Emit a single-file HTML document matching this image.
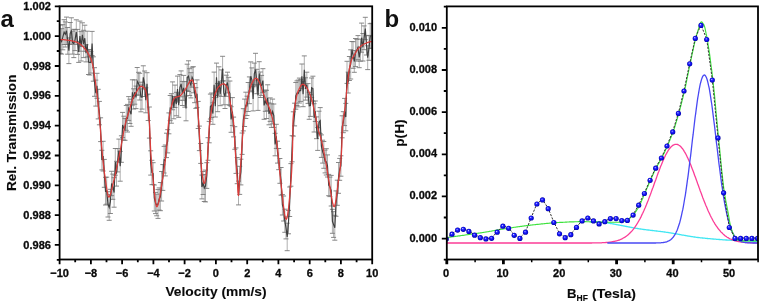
<!DOCTYPE html>
<html><head><meta charset="utf-8"><style>
html,body{margin:0;padding:0;background:#fff;}
body{width:761px;height:304px;overflow:hidden;}
svg{display:block;filter:blur(0.3px);font-family:"Liberation Sans",sans-serif;font-weight:bold;}
</style></head><body>
<svg width="761" height="304" viewBox="0 0 761 304">
<defs>
<radialGradient id="sg" cx="0.5" cy="0.5" r="0.5" fx="0.38" fy="0.34">
<stop offset="0" stop-color="#f0f0ff"/><stop offset="0.18" stop-color="#7070ff"/><stop offset="0.4" stop-color="#2222ff"/><stop offset="0.8" stop-color="#0808d8"/><stop offset="1" stop-color="#0000a0"/>
</radialGradient>
<clipPath id="ca"><rect x="59.6" y="6.3" width="312.6" height="253.2"/></clipPath>
<clipPath id="cb"><rect x="446.8" y="6.4" width="311.2" height="253.1"/></clipPath>
</defs>
<g clip-path="url(#ca)" fill="none">
<path d="M60.4 25.0V53.4M61.6 28.7V54.1M62.8 24.7V49.8M64.1 19.7V44.5M65.3 21.9V47.0M66.5 17.1V44.5M67.7 27.5V54.2M68.9 37.9V63.6M70.2 22.5V44.3M71.4 17.8V44.3M72.6 31.1V54.1M73.8 29.3V57.6M75.0 29.5V50.6M76.3 19.8V44.4M77.5 29.4V54.4M78.7 41.4V62.4M79.9 21.1V51.2M81.1 31.6V61.0M82.4 22.8V46.5M83.6 30.3V57.6M84.8 25.2V51.3M86.0 44.8V61.9M87.2 31.2V57.0M88.5 49.7V74.5M89.7 49.7V75.0M90.9 51.4V73.1M92.1 31.4V55.6M93.3 56.8V81.2M94.5 67.7V96.3M95.8 80.1V106.1M97.0 73.3V98.3M98.2 89.3V118.9M99.4 101.4V124.8M100.6 117.8V141.6M101.9 150.3V169.9M103.1 141.3V171.0M104.3 159.4V187.3M105.5 177.3V205.0M106.7 177.2V204.2M108.0 191.7V217.0M109.2 194.6V220.3M110.4 189.3V213.5M111.6 171.3V195.7M112.8 174.1V199.3M114.1 177.7V207.2M115.3 148.5V175.2M116.5 161.3V186.1M117.7 148.6V171.9M118.9 139.1V162.2M120.2 151.4V181.2M121.4 135.8V162.3M122.6 112.4V137.6M123.8 116.2V140.1M125.0 118.6V140.3M126.3 105.5V130.3M127.5 104.4V132.0M128.7 96.6V120.4M129.9 99.2V123.5M131.1 102.0V126.3M132.4 79.8V105.1M133.6 88.8V109.0M134.8 79.9V104.2M136.0 86.1V108.6M137.2 67.5V95.2M138.5 72.3V95.0M139.7 73.3V100.0M140.9 82.2V111.8M142.1 85.0V109.1M143.3 65.8V89.0M144.6 71.0V96.5M145.8 87.8V112.8M147.0 72.7V94.7M148.2 94.1V120.5M149.4 107.0V138.1M150.7 150.8V175.1M151.9 160.3V184.7M153.1 162.7V184.5M154.3 185.0V211.0M155.5 192.4V213.6M156.7 194.2V215.8M158.0 189.6V218.4M159.2 187.9V210.1M160.4 182.5V210.7M161.6 171.5V201.0M162.8 164.6V190.4M164.1 146.4V173.0M165.3 145.0V175.9M166.5 133.2V157.6M167.7 129.7V152.9M168.9 112.9V133.8M170.2 95.5V120.7M171.4 93.7V123.2M172.6 81.9V109.8M173.8 96.6V118.8M175.0 85.1V107.5M176.3 92.3V115.8M177.5 76.1V102.0M178.7 93.0V117.3M179.9 74.6V100.3M181.1 70.9V96.8M182.4 81.4V105.5M183.6 75.4V100.3M184.8 81.6V107.2M186.0 96.0V120.8M187.2 64.2V90.7M188.5 60.8V91.5M189.7 68.7V95.5M190.9 72.7V97.9M192.1 67.2V87.2M193.3 66.7V92.8M194.6 83.5V102.7M195.8 87.7V108.4M197.0 79.9V107.5M198.2 101.4V128.5M199.4 126.1V150.6M200.7 143.5V163.4M201.9 175.1V198.9M203.1 171.5V194.5M204.3 174.5V201.5M205.5 170.1V201.9M206.8 162.7V188.4M208.0 137.7V160.3M209.2 121.4V142.8M210.4 94.1V119.0M211.6 93.0V117.5M212.9 102.8V124.3M214.1 72.1V97.5M215.3 95.5V117.0M216.5 63.1V91.4M217.7 83.5V111.7M218.9 66.8V95.1M220.2 82.1V105.7M221.4 69.9V96.4M222.6 56.3V80.9M223.8 80.9V104.8M225.0 84.5V108.5M226.3 75.2V96.3M227.5 72.2V92.9M228.7 77.3V104.7M229.9 81.0V105.5M231.1 106.7V132.3M232.4 97.6V125.6M233.6 117.1V136.9M234.8 126.7V149.3M236.0 147.9V173.4M237.2 157.5V183.7M238.5 181.1V204.9M239.7 166.3V194.4M240.9 159.2V184.9M242.1 133.0V154.4M243.3 108.7V130.9M244.6 99.1V126.5M245.8 92.2V118.5M247.0 96.2V115.5M248.2 82.5V111.5M249.4 76.9V103.7M250.7 61.9V90.9M251.9 67.9V91.8M253.1 86.8V110.9M254.3 63.1V84.7M255.5 53.3V85.9M256.8 69.3V93.7M258.0 80.6V110.4M259.2 61.7V84.7M260.4 72.0V97.5M261.6 75.4V95.4M262.9 68.7V92.6M264.1 91.4V119.3M265.3 90.1V111.3M266.5 90.3V118.5M267.7 84.8V110.8M269.0 102.9V124.8M270.2 97.9V121.4M271.4 103.8V127.4M272.6 99.1V123.9M273.8 104.0V127.4M275.1 133.3V155.8M276.3 124.3V148.4M277.5 141.2V163.1M278.7 148.5V169.7M279.9 158.5V183.3M281.1 167.5V195.2M282.4 194.6V215.0M283.6 196.0V221.0M284.8 209.2V232.3M286.0 216.9V238.9M287.2 223.2V250.7M288.5 210.4V233.8M289.7 187.0V216.5M290.9 163.6V186.2M292.1 135.7V161.8M293.3 111.8V136.1M294.6 103.2V125.9M295.8 82.5V109.2M297.0 80.9V105.5M298.2 80.1V106.9M299.4 78.1V103.0M300.7 79.7V101.4M301.9 64.0V88.7M303.1 81.5V106.7M304.3 55.9V83.8M305.5 77.8V100.1M306.8 72.2V97.1M308.0 83.6V103.4M309.2 92.4V119.3M310.4 94.7V116.4M311.6 78.0V97.6M312.9 76.2V101.0M314.1 103.7V132.0M315.3 101.0V121.5M316.5 116.9V138.7M317.7 127.6V150.4M319.0 111.2V132.8M320.2 107.6V133.7M321.4 134.9V157.4M322.6 140.2V163.1M323.8 141.5V168.3M325.1 150.1V172.9M326.3 148.7V175.0M327.5 154.9V177.0M328.7 174.4V195.7M329.9 177.1V196.6M331.2 175.4V206.0M332.4 209.3V233.3M333.6 211.7V237.4M334.8 215.3V240.2M336.0 190.9V216.3M337.3 180.2V205.3M338.5 162.5V193.3M339.7 158.4V180.3M340.9 155.8V176.2M342.1 115.8V137.8M343.3 111.7V132.7M344.6 98.4V125.6M345.8 103.4V130.8M347.0 61.3V83.4M348.2 72.1V93.0M349.4 56.5V80.5M350.7 49.8V79.0M351.9 41.5V58.0M353.1 41.7V68.3M354.3 50.5V72.3M355.5 38.5V66.6M356.8 39.3V61.1M358.0 35.6V59.7M359.2 47.2V67.7M360.4 39.1V61.2M361.6 23.1V52.2M362.9 33.5V61.0M364.1 25.9V49.7M365.3 17.3V39.7M366.5 35.7V55.0M367.7 45.8V69.6M369.0 35.4V60.3M370.2 23.7V48.5M371.4 23.3V48.1" stroke="#9a9a9a" stroke-width="0.8"/>
<path d="M57.9 25.0h5M57.9 53.4h5M59.1 28.7h5M59.1 54.1h5M60.3 24.7h5M60.3 49.8h5M61.6 19.7h5M61.6 44.5h5M62.8 21.9h5M62.8 47.0h5M64.0 17.1h5M64.0 44.5h5M65.2 27.5h5M65.2 54.2h5M66.4 37.9h5M66.4 63.6h5M67.7 22.5h5M67.7 44.3h5M68.9 17.8h5M68.9 44.3h5M70.1 31.1h5M70.1 54.1h5M71.3 29.3h5M71.3 57.6h5M72.5 29.5h5M72.5 50.6h5M73.8 19.8h5M73.8 44.4h5M75.0 29.4h5M75.0 54.4h5M76.2 41.4h5M76.2 62.4h5M77.4 21.1h5M77.4 51.2h5M78.6 31.6h5M78.6 61.0h5M79.9 22.8h5M79.9 46.5h5M81.1 30.3h5M81.1 57.6h5M82.3 25.2h5M82.3 51.3h5M83.5 44.8h5M83.5 61.9h5M84.7 31.2h5M84.7 57.0h5M86.0 49.7h5M86.0 74.5h5M87.2 49.7h5M87.2 75.0h5M88.4 51.4h5M88.4 73.1h5M89.6 31.4h5M89.6 55.6h5M90.8 56.8h5M90.8 81.2h5M92.0 67.7h5M92.0 96.3h5M93.3 80.1h5M93.3 106.1h5M94.5 73.3h5M94.5 98.3h5M95.7 89.3h5M95.7 118.9h5M96.9 101.4h5M96.9 124.8h5M98.1 117.8h5M98.1 141.6h5M99.4 150.3h5M99.4 169.9h5M100.6 141.3h5M100.6 171.0h5M101.8 159.4h5M101.8 187.3h5M103.0 177.3h5M103.0 205.0h5M104.2 177.2h5M104.2 204.2h5M105.5 191.7h5M105.5 217.0h5M106.7 194.6h5M106.7 220.3h5M107.9 189.3h5M107.9 213.5h5M109.1 171.3h5M109.1 195.7h5M110.3 174.1h5M110.3 199.3h5M111.6 177.7h5M111.6 207.2h5M112.8 148.5h5M112.8 175.2h5M114.0 161.3h5M114.0 186.1h5M115.2 148.6h5M115.2 171.9h5M116.4 139.1h5M116.4 162.2h5M117.7 151.4h5M117.7 181.2h5M118.9 135.8h5M118.9 162.3h5M120.1 112.4h5M120.1 137.6h5M121.3 116.2h5M121.3 140.1h5M122.5 118.6h5M122.5 140.3h5M123.8 105.5h5M123.8 130.3h5M125.0 104.4h5M125.0 132.0h5M126.2 96.6h5M126.2 120.4h5M127.4 99.2h5M127.4 123.5h5M128.6 102.0h5M128.6 126.3h5M129.9 79.8h5M129.9 105.1h5M131.1 88.8h5M131.1 109.0h5M132.3 79.9h5M132.3 104.2h5M133.5 86.1h5M133.5 108.6h5M134.7 67.5h5M134.7 95.2h5M136.0 72.3h5M136.0 95.0h5M137.2 73.3h5M137.2 100.0h5M138.4 82.2h5M138.4 111.8h5M139.6 85.0h5M139.6 109.1h5M140.8 65.8h5M140.8 89.0h5M142.1 71.0h5M142.1 96.5h5M143.3 87.8h5M143.3 112.8h5M144.5 72.7h5M144.5 94.7h5M145.7 94.1h5M145.7 120.5h5M146.9 107.0h5M146.9 138.1h5M148.2 150.8h5M148.2 175.1h5M149.4 160.3h5M149.4 184.7h5M150.6 162.7h5M150.6 184.5h5M151.8 185.0h5M151.8 211.0h5M153.0 192.4h5M153.0 213.6h5M154.2 194.2h5M154.2 215.8h5M155.5 189.6h5M155.5 218.4h5M156.7 187.9h5M156.7 210.1h5M157.9 182.5h5M157.9 210.7h5M159.1 171.5h5M159.1 201.0h5M160.3 164.6h5M160.3 190.4h5M161.6 146.4h5M161.6 173.0h5M162.8 145.0h5M162.8 175.9h5M164.0 133.2h5M164.0 157.6h5M165.2 129.7h5M165.2 152.9h5M166.4 112.9h5M166.4 133.8h5M167.7 95.5h5M167.7 120.7h5M168.9 93.7h5M168.9 123.2h5M170.1 81.9h5M170.1 109.8h5M171.3 96.6h5M171.3 118.8h5M172.5 85.1h5M172.5 107.5h5M173.8 92.3h5M173.8 115.8h5M175.0 76.1h5M175.0 102.0h5M176.2 93.0h5M176.2 117.3h5M177.4 74.6h5M177.4 100.3h5M178.6 70.9h5M178.6 96.8h5M179.9 81.4h5M179.9 105.5h5M181.1 75.4h5M181.1 100.3h5M182.3 81.6h5M182.3 107.2h5M183.5 96.0h5M183.5 120.8h5M184.7 64.2h5M184.7 90.7h5M186.0 60.8h5M186.0 91.5h5M187.2 68.7h5M187.2 95.5h5M188.4 72.7h5M188.4 97.9h5M189.6 67.2h5M189.6 87.2h5M190.8 66.7h5M190.8 92.8h5M192.1 83.5h5M192.1 102.7h5M193.3 87.7h5M193.3 108.4h5M194.5 79.9h5M194.5 107.5h5M195.7 101.4h5M195.7 128.5h5M196.9 126.1h5M196.9 150.6h5M198.2 143.5h5M198.2 163.4h5M199.4 175.1h5M199.4 198.9h5M200.6 171.5h5M200.6 194.5h5M201.8 174.5h5M201.8 201.5h5M203.0 170.1h5M203.0 201.9h5M204.3 162.7h5M204.3 188.4h5M205.5 137.7h5M205.5 160.3h5M206.7 121.4h5M206.7 142.8h5M207.9 94.1h5M207.9 119.0h5M209.1 93.0h5M209.1 117.5h5M210.4 102.8h5M210.4 124.3h5M211.6 72.1h5M211.6 97.5h5M212.8 95.5h5M212.8 117.0h5M214.0 63.1h5M214.0 91.4h5M215.2 83.5h5M215.2 111.7h5M216.4 66.8h5M216.4 95.1h5M217.7 82.1h5M217.7 105.7h5M218.9 69.9h5M218.9 96.4h5M220.1 56.3h5M220.1 80.9h5M221.3 80.9h5M221.3 104.8h5M222.5 84.5h5M222.5 108.5h5M223.8 75.2h5M223.8 96.3h5M225.0 72.2h5M225.0 92.9h5M226.2 77.3h5M226.2 104.7h5M227.4 81.0h5M227.4 105.5h5M228.6 106.7h5M228.6 132.3h5M229.9 97.6h5M229.9 125.6h5M231.1 117.1h5M231.1 136.9h5M232.3 126.7h5M232.3 149.3h5M233.5 147.9h5M233.5 173.4h5M234.7 157.5h5M234.7 183.7h5M236.0 181.1h5M236.0 204.9h5M237.2 166.3h5M237.2 194.4h5M238.4 159.2h5M238.4 184.9h5M239.6 133.0h5M239.6 154.4h5M240.8 108.7h5M240.8 130.9h5M242.1 99.1h5M242.1 126.5h5M243.3 92.2h5M243.3 118.5h5M244.5 96.2h5M244.5 115.5h5M245.7 82.5h5M245.7 111.5h5M246.9 76.9h5M246.9 103.7h5M248.2 61.9h5M248.2 90.9h5M249.4 67.9h5M249.4 91.8h5M250.6 86.8h5M250.6 110.9h5M251.8 63.1h5M251.8 84.7h5M253.0 53.3h5M253.0 85.9h5M254.3 69.3h5M254.3 93.7h5M255.5 80.6h5M255.5 110.4h5M256.7 61.7h5M256.7 84.7h5M257.9 72.0h5M257.9 97.5h5M259.1 75.4h5M259.1 95.4h5M260.4 68.7h5M260.4 92.6h5M261.6 91.4h5M261.6 119.3h5M262.8 90.1h5M262.8 111.3h5M264.0 90.3h5M264.0 118.5h5M265.2 84.8h5M265.2 110.8h5M266.5 102.9h5M266.5 124.8h5M267.7 97.9h5M267.7 121.4h5M268.9 103.8h5M268.9 127.4h5M270.1 99.1h5M270.1 123.9h5M271.3 104.0h5M271.3 127.4h5M272.6 133.3h5M272.6 155.8h5M273.8 124.3h5M273.8 148.4h5M275.0 141.2h5M275.0 163.1h5M276.2 148.5h5M276.2 169.7h5M277.4 158.5h5M277.4 183.3h5M278.6 167.5h5M278.6 195.2h5M279.9 194.6h5M279.9 215.0h5M281.1 196.0h5M281.1 221.0h5M282.3 209.2h5M282.3 232.3h5M283.5 216.9h5M283.5 238.9h5M284.7 223.2h5M284.7 250.7h5M286.0 210.4h5M286.0 233.8h5M287.2 187.0h5M287.2 216.5h5M288.4 163.6h5M288.4 186.2h5M289.6 135.7h5M289.6 161.8h5M290.8 111.8h5M290.8 136.1h5M292.1 103.2h5M292.1 125.9h5M293.3 82.5h5M293.3 109.2h5M294.5 80.9h5M294.5 105.5h5M295.7 80.1h5M295.7 106.9h5M296.9 78.1h5M296.9 103.0h5M298.2 79.7h5M298.2 101.4h5M299.4 64.0h5M299.4 88.7h5M300.6 81.5h5M300.6 106.7h5M301.8 55.9h5M301.8 83.8h5M303.0 77.8h5M303.0 100.1h5M304.3 72.2h5M304.3 97.1h5M305.5 83.6h5M305.5 103.4h5M306.7 92.4h5M306.7 119.3h5M307.9 94.7h5M307.9 116.4h5M309.1 78.0h5M309.1 97.6h5M310.4 76.2h5M310.4 101.0h5M311.6 103.7h5M311.6 132.0h5M312.8 101.0h5M312.8 121.5h5M314.0 116.9h5M314.0 138.7h5M315.2 127.6h5M315.2 150.4h5M316.5 111.2h5M316.5 132.8h5M317.7 107.6h5M317.7 133.7h5M318.9 134.9h5M318.9 157.4h5M320.1 140.2h5M320.1 163.1h5M321.3 141.5h5M321.3 168.3h5M322.6 150.1h5M322.6 172.9h5M323.8 148.7h5M323.8 175.0h5M325.0 154.9h5M325.0 177.0h5M326.2 174.4h5M326.2 195.7h5M327.4 177.1h5M327.4 196.6h5M328.7 175.4h5M328.7 206.0h5M329.9 209.3h5M329.9 233.3h5M331.1 211.7h5M331.1 237.4h5M332.3 215.3h5M332.3 240.2h5M333.5 190.9h5M333.5 216.3h5M334.8 180.2h5M334.8 205.3h5M336.0 162.5h5M336.0 193.3h5M337.2 158.4h5M337.2 180.3h5M338.4 155.8h5M338.4 176.2h5M339.6 115.8h5M339.6 137.8h5M340.8 111.7h5M340.8 132.7h5M342.1 98.4h5M342.1 125.6h5M343.3 103.4h5M343.3 130.8h5M344.5 61.3h5M344.5 83.4h5M345.7 72.1h5M345.7 93.0h5M346.9 56.5h5M346.9 80.5h5M348.2 49.8h5M348.2 79.0h5M349.4 41.5h5M349.4 58.0h5M350.6 41.7h5M350.6 68.3h5M351.8 50.5h5M351.8 72.3h5M353.0 38.5h5M353.0 66.6h5M354.3 39.3h5M354.3 61.1h5M355.5 35.6h5M355.5 59.7h5M356.7 47.2h5M356.7 67.7h5M357.9 39.1h5M357.9 61.2h5M359.1 23.1h5M359.1 52.2h5M360.4 33.5h5M360.4 61.0h5M361.6 25.9h5M361.6 49.7h5M362.8 17.3h5M362.8 39.7h5M364.0 35.7h5M364.0 55.0h5M365.2 45.8h5M365.2 69.6h5M366.5 35.4h5M366.5 60.3h5M367.7 23.7h5M367.7 48.5h5M368.9 23.3h5M368.9 48.1h5" stroke="#7a7a7a" stroke-width="0.9"/>
<path d="M60.4 39.2L61.6 41.4L62.8 37.2L64.1 32.1L65.3 34.4L66.5 30.8L67.7 40.8L68.9 50.8L70.2 33.4L71.4 31.1L72.6 42.6L73.8 43.5L75.0 40.1L76.3 32.1L77.5 41.9L78.7 51.9L79.9 36.1L81.1 46.3L82.4 34.7L83.6 43.9L84.8 38.2L86.0 53.3L87.2 44.1L88.5 62.1L89.7 62.3L90.9 62.3L92.1 43.5L93.3 69.0L94.5 82.0L95.8 93.1L97.0 85.8L98.2 104.1L99.4 113.1L100.6 129.7L101.9 160.1L103.1 156.1L104.3 173.4L105.5 191.2L106.7 190.7L108.0 204.3L109.2 207.5L110.4 201.4L111.6 183.5L112.8 186.7L114.1 192.5L115.3 161.9L116.5 173.7L117.7 160.2L118.9 150.6L120.2 166.3L121.4 149.0L122.6 125.0L123.8 128.1L125.0 129.5L126.3 117.9L127.5 118.2L128.7 108.5L129.9 111.3L131.1 114.2L132.4 92.4L133.6 98.9L134.8 92.0L136.0 97.4L137.2 81.3L138.5 83.6L139.7 86.7L140.9 97.0L142.1 97.1L143.3 77.4L144.6 83.8L145.8 100.3L147.0 83.7L148.2 107.3L149.4 122.5L150.7 162.9L151.9 172.5L153.1 173.6L154.3 198.0L155.5 203.0L156.7 205.0L158.0 204.0L159.2 199.0L160.4 196.6L161.6 186.3L162.8 177.5L164.1 159.7L165.3 160.5L166.5 145.4L167.7 141.3L168.9 123.4L170.2 108.1L171.4 108.5L172.6 95.9L173.8 107.7L175.0 96.3L176.3 104.1L177.5 89.0L178.7 105.2L179.9 87.5L181.1 83.9L182.4 93.4L183.6 87.9L184.8 94.4L186.0 108.4L187.2 77.5L188.5 76.1L189.7 82.1L190.9 85.3L192.1 77.2L193.3 79.8L194.6 93.1L195.8 98.1L197.0 93.7L198.2 114.9L199.4 138.4L200.7 153.4L201.9 187.0L203.1 183.0L204.3 188.0L205.5 186.0L206.8 175.5L208.0 149.0L209.2 132.1L210.4 106.5L211.6 105.3L212.9 113.6L214.1 84.8L215.3 106.3L216.5 77.3L217.7 97.6L218.9 80.9L220.2 93.9L221.4 83.1L222.6 68.6L223.8 92.9L225.0 96.5L226.3 85.8L227.5 82.5L228.7 91.0L229.9 93.3L231.1 119.5L232.4 111.6L233.6 127.0L234.8 138.0L236.0 160.6L237.2 170.6L238.5 193.0L239.7 180.3L240.9 172.0L242.1 143.7L243.3 119.8L244.6 112.8L245.8 105.3L247.0 105.9L248.2 97.0L249.4 90.3L250.7 76.4L251.9 79.9L253.1 98.9L254.3 73.9L255.5 69.6L256.8 81.5L258.0 95.5L259.2 73.2L260.4 84.8L261.6 85.4L262.9 80.6L264.1 105.4L265.3 100.7L266.5 104.4L267.7 97.8L269.0 113.9L270.2 109.6L271.4 115.6L272.6 111.5L273.8 115.7L275.1 144.5L276.3 136.4L277.5 152.2L278.7 159.1L279.9 170.9L281.1 181.4L282.4 204.8L283.6 208.5L284.8 220.7L286.0 227.9L287.2 236.9L288.5 222.1L289.7 201.8L290.9 174.9L292.1 148.8L293.3 123.9L294.6 114.6L295.8 95.8L297.0 93.2L298.2 93.5L299.4 90.5L300.7 90.6L301.9 76.3L303.1 94.1L304.3 69.9L305.5 88.9L306.8 84.7L308.0 93.5L309.2 105.8L310.4 105.5L311.6 87.8L312.9 88.6L314.1 117.8L315.3 111.2L316.5 127.8L317.7 139.0L319.0 122.0L320.2 120.7L321.4 146.1L322.6 151.7L323.8 154.9L325.1 161.5L326.3 161.8L327.5 165.9L328.7 185.1L329.9 186.9L331.2 190.7L332.4 221.3L333.6 224.6L334.8 227.7L336.0 203.6L337.3 192.7L338.5 177.9L339.7 169.4L340.9 166.0L342.1 126.8L343.3 122.2L344.6 112.0L345.8 117.1L347.0 72.3L348.2 82.5L349.4 68.5L350.7 64.4L351.9 49.7L353.1 55.0L354.3 61.4L355.5 52.5L356.8 50.2L358.0 47.6L359.2 57.5L360.4 50.2L361.6 37.7L362.9 47.3L364.1 37.8L365.3 28.5L366.5 45.4L367.7 57.7L369.0 47.8L370.2 36.1L371.4 35.7" stroke="#3e3e3e" stroke-width="1.15"/>
<path d="M59.6 39.5L60.0 39.5L60.5 39.5L60.9 39.5L61.4 39.5L61.8 39.6L62.3 39.6L62.7 39.6L63.2 39.7L63.6 39.7L64.1 39.7L64.5 39.8L65.0 39.8L65.4 39.9L65.9 39.9L66.3 40.0L66.8 40.0L67.2 40.1L67.6 40.2L68.1 40.2L68.5 40.3L69.0 40.4L69.4 40.4L69.9 40.5L70.3 40.6L70.8 40.6L71.2 40.7L71.7 40.8L72.1 40.9L72.6 41.0L73.0 41.1L73.5 41.2L73.9 41.3L74.4 41.5L74.8 41.6L75.3 41.8L75.7 41.9L76.1 42.1L76.6 42.2L77.0 42.4L77.5 42.6L77.9 42.8L78.4 43.0L78.8 43.3L79.3 43.6L79.7 43.9L80.2 44.2L80.6 44.5L81.1 44.9L81.5 45.3L82.0 45.7L82.4 46.1L82.9 46.6L83.3 47.0L83.7 47.5L84.2 48.0L84.6 48.5L85.1 49.0L85.5 49.5L86.0 50.1L86.4 50.7L86.9 51.3L87.3 52.0L87.8 52.8L88.2 53.5L88.7 54.4L89.1 55.2L89.6 56.1L90.0 57.1L90.5 58.1L90.9 59.1L91.4 60.3L91.8 61.6L92.2 63.1L92.7 64.8L93.1 66.9L93.6 69.5L94.0 72.4L94.5 75.3L94.9 78.3L95.4 81.5L95.8 84.8L96.3 88.2L96.7 91.9L97.2 95.6L97.6 99.5L98.1 103.6L98.5 107.9L99.0 112.4L99.4 117.2L99.8 122.3L100.3 127.7L100.7 133.7L101.2 140.1L101.6 146.1L102.1 151.4L102.5 156.0L103.0 160.4L103.4 164.5L103.9 168.4L104.3 172.0L104.8 175.4L105.2 178.4L105.7 181.4L106.1 184.6L106.6 187.7L107.0 190.6L107.5 193.2L107.9 195.2L108.3 196.6L108.8 197.1L109.2 196.9L109.7 196.2L110.1 195.2L110.6 193.8L111.0 192.3L111.5 190.5L111.9 188.6L112.4 186.6L112.8 184.6L113.3 182.7L113.7 181.0L114.2 179.2L114.6 177.4L115.1 175.4L115.5 173.5L115.9 171.4L116.4 169.3L116.8 167.2L117.3 165.0L117.7 162.8L118.2 160.6L118.6 158.4L119.1 156.2L119.5 153.9L120.0 151.7L120.4 149.5L120.9 147.1L121.3 144.7L121.8 142.2L122.2 139.7L122.7 137.2L123.1 134.8L123.6 132.4L124.0 130.0L124.4 127.8L124.9 125.8L125.3 123.8L125.8 122.1L126.2 120.4L126.7 118.8L127.1 117.3L127.6 115.8L128.0 114.4L128.5 113.0L128.9 111.5L129.4 110.0L129.8 108.4L130.3 106.7L130.7 105.0L131.2 103.5L131.6 102.1L132.0 100.9L132.5 99.7L132.9 98.6L133.4 97.6L133.8 96.6L134.3 95.7L134.7 94.9L135.2 94.1L135.6 93.3L136.1 92.5L136.5 91.8L137.0 91.0L137.4 90.2L137.9 89.4L138.3 88.7L138.8 88.1L139.2 87.5L139.7 87.0L140.1 86.7L140.5 86.4L141.0 86.3L141.4 86.3L141.9 86.4L142.3 86.6L142.8 86.8L143.2 87.1L143.7 87.5L144.1 88.0L144.6 88.5L145.0 89.1L145.5 89.8L145.9 91.4L146.4 93.8L146.8 96.8L147.3 100.0L147.7 104.5L148.1 109.8L148.6 114.5L149.0 118.6L149.5 123.8L149.9 133.6L150.4 145.1L150.8 152.8L151.3 159.4L151.7 165.2L152.2 170.3L152.6 174.9L153.1 179.4L153.5 184.1L154.0 188.7L154.4 193.1L154.9 197.2L155.3 200.7L155.8 203.6L156.2 205.5L156.6 206.5L157.1 206.5L157.5 205.9L158.0 204.8L158.4 203.3L158.9 201.5L159.3 199.3L159.8 196.9L160.2 194.2L160.7 191.4L161.1 188.4L161.6 185.4L162.0 182.4L162.5 179.4L162.9 176.5L163.4 173.8L163.8 171.0L164.2 168.0L164.7 164.9L165.1 161.6L165.6 158.0L166.0 154.1L166.5 149.7L166.9 143.8L167.4 137.1L167.8 130.5L168.3 125.2L168.7 121.4L169.2 118.0L169.6 115.0L170.1 112.4L170.5 110.1L171.0 108.2L171.4 106.5L171.8 104.8L172.3 103.2L172.7 101.8L173.2 100.5L173.6 99.5L174.1 98.6L174.5 98.0L175.0 97.7L175.4 97.5L175.9 97.2L176.3 97.1L176.8 96.9L177.2 96.8L177.7 96.7L178.1 96.6L178.6 96.4L179.0 96.3L179.5 96.1L179.9 95.9L180.3 95.6L180.8 95.2L181.2 94.7L181.7 94.2L182.1 93.7L182.6 93.1L183.0 92.5L183.5 91.8L183.9 91.2L184.4 90.6L184.8 89.9L185.3 89.3L185.7 88.7L186.2 87.9L186.6 87.1L187.1 86.3L187.5 85.4L187.9 84.6L188.4 83.8L188.8 83.0L189.3 82.2L189.7 81.6L190.2 81.0L190.6 80.5L191.1 80.2L191.5 80.0L192.0 79.9L192.4 80.2L192.9 81.0L193.3 82.2L193.8 83.7L194.2 85.5L194.7 87.5L195.1 89.7L195.6 91.9L196.0 94.2L196.4 97.1L196.9 100.6L197.3 104.8L197.8 109.4L198.2 114.9L198.7 121.5L199.1 128.8L199.6 137.4L200.0 147.3L200.5 156.0L200.9 162.0L201.4 167.2L201.8 171.6L202.3 175.3L202.7 178.0L203.2 180.3L203.6 182.2L204.0 183.3L204.5 183.2L204.9 182.0L205.4 180.1L205.8 177.6L206.3 174.8L206.7 170.5L207.2 163.9L207.6 156.3L208.1 148.8L208.5 140.0L209.0 131.8L209.4 126.4L209.9 122.0L210.3 118.2L210.8 114.9L211.2 111.9L211.7 109.2L212.1 106.6L212.5 104.2L213.0 102.0L213.4 100.0L213.9 98.2L214.3 96.5L214.8 95.1L215.2 93.8L215.7 92.6L216.1 91.4L216.6 90.3L217.0 89.3L217.5 88.4L217.9 87.7L218.4 87.1L218.8 86.6L219.3 86.2L219.7 85.8L220.1 85.4L220.6 85.0L221.0 84.7L221.5 84.4L221.9 84.2L222.4 84.0L222.8 83.9L223.3 83.8L223.7 83.8L224.2 83.9L224.6 84.2L225.1 84.6L225.5 85.0L226.0 85.6L226.4 86.2L226.9 86.9L227.3 87.6L227.8 88.7L228.2 90.5L228.6 92.8L229.1 95.5L229.5 98.3L230.0 101.2L230.4 103.8L230.9 106.1L231.3 108.3L231.8 110.6L232.2 113.0L232.7 115.7L233.1 118.9L233.6 123.0L234.0 129.2L234.5 137.0L234.9 145.1L235.4 152.4L235.8 158.8L236.2 165.0L236.7 171.1L237.1 177.3L237.6 184.2L238.0 192.8L238.5 195.9L238.9 190.8L239.4 182.8L239.8 176.5L240.3 170.3L240.7 164.0L241.2 157.7L241.6 151.4L242.1 144.5L242.5 137.2L243.0 130.1L243.4 124.1L243.9 119.7L244.3 116.3L244.7 113.3L245.2 110.7L245.6 108.3L246.1 105.8L246.5 103.5L247.0 101.2L247.4 99.1L247.9 97.0L248.3 95.1L248.8 93.3L249.2 91.6L249.7 89.9L250.1 88.2L250.6 86.7L251.0 85.3L251.5 84.2L251.9 83.3L252.3 82.5L252.8 81.7L253.2 80.9L253.7 80.2L254.1 79.5L254.6 79.0L255.0 78.6L255.5 78.3L255.9 78.2L256.4 78.3L256.8 78.5L257.3 79.0L257.7 79.5L258.2 80.2L258.6 80.9L259.1 81.7L259.5 82.5L260.0 83.4L260.4 84.6L260.8 86.0L261.3 87.4L261.7 88.9L262.2 90.4L262.6 91.7L263.1 92.9L263.5 94.1L264.0 95.2L264.4 96.3L264.9 97.4L265.3 98.5L265.8 99.6L266.2 100.7L266.7 101.8L267.1 102.9L267.6 103.9L268.0 104.9L268.4 105.9L268.9 107.0L269.3 108.1L269.8 109.3L270.2 110.5L270.7 111.9L271.1 113.4L271.6 115.1L272.0 116.9L272.5 118.7L272.9 120.5L273.4 122.3L273.8 124.2L274.3 126.3L274.7 128.7L275.2 131.4L275.6 134.2L276.0 137.2L276.5 140.4L276.9 143.8L277.4 147.3L277.8 151.3L278.3 155.8L278.7 160.6L279.2 165.6L279.6 170.5L280.1 175.1L280.5 179.2L281.0 183.1L281.4 187.3L281.9 191.5L282.3 195.7L282.8 199.9L283.2 203.9L283.7 207.6L284.1 211.0L284.5 213.9L285.0 216.3L285.4 218.0L285.9 219.0L286.3 219.2L286.8 218.4L287.2 216.8L287.7 214.3L288.1 211.2L288.6 207.5L289.0 203.2L289.5 198.5L289.9 193.5L290.4 188.1L290.8 182.6L291.3 177.0L291.7 170.5L292.1 161.4L292.6 146.9L293.0 120.6L293.5 114.6L293.9 110.8L294.4 108.3L294.8 105.9L295.3 103.2L295.7 100.7L296.2 98.3L296.6 96.2L297.1 94.3L297.5 92.8L298.0 91.5L298.4 90.5L298.9 89.5L299.3 88.5L299.8 87.6L300.2 86.7L300.6 86.0L301.1 85.4L301.5 84.9L302.0 84.5L302.4 84.3L302.9 84.2L303.3 84.3L303.8 84.5L304.2 84.8L304.7 85.2L305.1 85.7L305.6 86.2L306.0 86.8L306.5 87.4L306.9 87.9L307.4 88.6L307.8 89.4L308.2 90.3L308.7 91.3L309.1 92.3L309.6 93.4L310.0 94.6L310.5 95.9L310.9 97.3L311.4 98.8L311.8 100.3L312.3 102.0L312.7 103.7L313.2 105.5L313.6 107.4L314.1 109.5L314.5 111.6L315.0 113.8L315.4 116.0L315.9 118.2L316.3 120.5L316.7 123.0L317.2 125.3L317.6 127.4L318.1 129.1L318.5 130.7L319.0 132.2L319.4 133.6L319.9 135.0L320.3 136.4L320.8 137.9L321.2 139.5L321.7 141.3L322.1 143.2L322.6 145.2L323.0 147.3L323.5 149.5L323.9 151.8L324.3 154.2L324.8 156.6L325.2 159.0L325.7 161.5L326.1 164.0L326.6 166.7L327.0 169.6L327.5 172.4L327.9 175.2L328.4 178.0L328.8 180.6L329.3 183.1L329.7 185.8L330.2 188.7L330.6 191.5L331.1 194.4L331.5 197.1L332.0 199.7L332.4 201.9L332.8 203.8L333.3 205.3L333.7 206.3L334.2 206.6L334.6 206.1L335.1 204.8L335.5 202.7L336.0 199.9L336.4 196.8L336.9 193.3L337.3 189.6L337.8 186.0L338.2 182.4L338.7 179.1L339.1 176.1L339.6 173.1L340.0 169.7L340.4 165.9L340.9 161.2L341.3 155.5L341.8 146.6L342.2 131.2L342.7 125.0L343.1 120.6L343.6 117.1L344.0 114.3L344.5 111.6L344.9 108.6L345.4 104.9L345.8 100.3L346.3 95.5L346.7 90.6L347.2 86.2L347.6 82.2L348.1 78.3L348.5 74.7L348.9 71.5L349.4 68.9L349.8 66.6L350.3 64.4L350.7 62.5L351.2 60.9L351.6 59.7L352.1 58.7L352.5 57.8L353.0 57.1L353.4 56.4L353.9 55.7L354.3 55.0L354.8 54.2L355.2 53.4L355.7 52.6L356.1 51.8L356.5 51.1L357.0 50.4L357.4 49.7L357.9 49.1L358.3 48.6L358.8 48.1L359.2 47.7L359.7 47.2L360.1 46.8L360.6 46.4L361.0 46.0L361.5 45.6L361.9 45.3L362.4 45.0L362.8 44.7L363.3 44.5L363.7 44.3L364.2 44.0L364.6 43.8L365.0 43.6L365.5 43.4L365.9 43.2L366.4 43.0L366.8 42.8L367.3 42.6L367.7 42.4L368.2 42.3L368.6 42.1L369.1 42.0L369.5 41.9L370.0 41.8L370.4 41.7L370.9 41.6L371.3 41.5L371.8 41.5L372.2 41.5" stroke="#dc3c3a" stroke-width="1.25"/>
</g>
<g font-size="11" fill="#0a0a0a" stroke="#0a0a0a" stroke-width="0.3">
<text x="50.9" y="9.9" text-anchor="end">1.002</text><text x="50.9" y="39.7" text-anchor="end">1.000</text><text x="50.9" y="69.6" text-anchor="end">0.998</text><text x="50.9" y="99.4" text-anchor="end">0.996</text><text x="50.9" y="129.2" text-anchor="end">0.994</text><text x="50.9" y="159.1" text-anchor="end">0.992</text><text x="50.9" y="188.9" text-anchor="end">0.990</text><text x="50.9" y="218.7" text-anchor="end">0.988</text><text x="50.9" y="248.5" text-anchor="end">0.986</text><text x="59.6" y="277" text-anchor="middle">−10</text><text x="90.9" y="277" text-anchor="middle">−8</text><text x="122.1" y="277" text-anchor="middle">−6</text><text x="153.4" y="277" text-anchor="middle">−4</text><text x="184.6" y="277" text-anchor="middle">−2</text><text x="215.9" y="277" text-anchor="middle">0</text><text x="247.2" y="277" text-anchor="middle">2</text><text x="278.4" y="277" text-anchor="middle">4</text><text x="309.7" y="277" text-anchor="middle">6</text><text x="340.9" y="277" text-anchor="middle">8</text><text x="372.2" y="277" text-anchor="middle">10</text><text x="437" y="241.6" text-anchor="end">0.000</text><text x="437" y="199.4" text-anchor="end">0.002</text><text x="437" y="157.3" text-anchor="end">0.004</text><text x="437" y="115.1" text-anchor="end">0.006</text><text x="437" y="73.0" text-anchor="end">0.008</text><text x="437" y="30.8" text-anchor="end">0.010</text><text x="446.0" y="277" text-anchor="middle">0</text><text x="502.6" y="277" text-anchor="middle">10</text><text x="559.2" y="277" text-anchor="middle">20</text><text x="615.8" y="277" text-anchor="middle">30</text><text x="672.4" y="277" text-anchor="middle">40</text><text x="729.0" y="277" text-anchor="middle">50</text>
</g>
<g font-size="12" fill="#0a0a0a" stroke="#0a0a0a" stroke-width="0.1">
<text transform="translate(216 295.9) scale(1.15 1)" text-anchor="middle">Velocity (mm/s)</text>
<text transform="translate(16.2 132.8) rotate(-90) scale(1.135 1)" text-anchor="middle">Rel. Transmission</text>
<text transform="translate(567 297.8) scale(1.1 1)">B</text><text transform="translate(576.6 301.3)" font-size="8.5">HF</text><text transform="translate(592 297.8) scale(1.165 1)">(Tesla)</text>
<text transform="translate(404.3 133.1) rotate(-90) scale(1.14 1)" text-anchor="middle">p(H)</text>
</g>
<g font-size="24" fill="#111">
<text x="0.5" y="26.7">a</text>
<text x="384.5" y="27.2">b</text>
</g>
<g clip-path="url(#cb)" fill="none" stroke-width="1.3">
<path d="M590.2 221.8L590.7 221.8L591.2 221.8L591.7 221.8L592.3 221.9L592.8 221.9L593.3 221.9L593.8 221.9L594.3 221.9L594.9 222.0L595.4 222.0L595.9 222.0L596.4 222.0L596.9 222.0L597.5 222.0L598.0 222.0L598.5 222.0L599.0 222.0L599.5 222.1L600.1 222.1L600.6 222.1L601.1 222.1L601.6 222.1L602.1 222.1L602.7 222.2L603.2 222.2L603.7 222.3L604.2 222.3L604.7 222.4L605.3 222.4L605.8 222.5L606.3 222.6L606.8 222.7L607.3 222.8L607.9 222.9L608.4 223.0L608.9 223.1L609.4 223.2L609.9 223.4L610.5 223.5L611.0 223.6L611.5 223.6L612.0 223.7L612.5 223.8L613.1 223.9L613.6 224.0L614.1 224.1L614.6 224.2L615.1 224.3L615.6 224.4L616.2 224.5L616.7 224.6L617.2 224.7L617.7 224.8L618.2 224.9L618.8 225.0L619.3 225.1L619.8 225.2L620.3 225.3L620.8 225.4L621.4 225.5L621.9 225.6L622.4 225.7L622.9 225.8L623.4 225.9L624.0 226.0L624.5 226.1L625.0 226.2L625.5 226.3L626.0 226.4L626.6 226.5L627.1 226.6L627.6 226.7L628.1 226.8L628.6 226.9L629.2 227.0L629.7 227.1L630.2 227.2L630.7 227.3L631.2 227.4L631.8 227.5L632.3 227.6L632.8 227.7L633.3 227.8L633.8 227.9L634.4 228.0L634.9 228.1L635.4 228.2L635.9 228.3L636.4 228.4L636.9 228.4L637.5 228.5L638.0 228.6L638.5 228.7L639.0 228.8L639.5 228.9L640.1 228.9L640.6 229.0L641.1 229.1L641.6 229.2L642.1 229.2L642.7 229.3L643.2 229.4L643.7 229.5L644.2 229.5L644.7 229.6L645.3 229.7L645.8 229.7L646.3 229.8L646.8 229.9L647.3 229.9L647.9 230.0L648.4 230.0L648.9 230.1L649.4 230.2L649.9 230.2L650.5 230.3L651.0 230.3L651.5 230.4L652.0 230.5L652.5 230.5L653.1 230.6L653.6 230.7L654.1 230.7L654.6 230.8L655.1 230.8L655.7 230.9L656.2 231.0L656.7 231.0L657.2 231.1L657.7 231.1L658.2 231.2L658.8 231.3L659.3 231.3L659.8 231.4L660.3 231.4L660.8 231.5L661.4 231.6L661.9 231.6L662.4 231.7L662.9 231.8L663.4 231.8L664.0 231.9L664.5 232.0L665.0 232.1L665.5 232.1L666.0 232.2L666.6 232.3L667.1 232.4L667.6 232.4L668.1 232.5L668.6 232.6L669.2 232.7L669.7 232.8L670.2 232.9L670.7 232.9L671.2 233.0L671.8 233.1L672.3 233.2L672.8 233.3L673.3 233.4L673.8 233.5L674.4 233.6L674.9 233.7L675.4 233.7L675.9 233.8L676.4 233.9L677.0 234.0L677.5 234.1L678.0 234.2L678.5 234.3L679.0 234.4L679.6 234.5L680.1 234.6L680.6 234.7L681.1 234.8L681.6 234.9L682.1 235.0L682.7 235.1L683.2 235.2L683.7 235.2L684.2 235.3L684.7 235.4L685.3 235.5L685.8 235.6L686.3 235.7L686.8 235.8L687.3 235.9L687.9 236.0L688.4 236.1L688.9 236.2L689.4 236.2L689.9 236.3L690.5 236.4L691.0 236.5L691.5 236.6L692.0 236.7L692.5 236.7L693.1 236.8L693.6 236.9L694.1 237.0L694.6 237.0L695.1 237.1L695.7 237.2L696.2 237.3L696.7 237.3L697.2 237.4L697.7 237.5L698.3 237.5L698.8 237.6L699.3 237.6L699.8 237.7L700.3 237.8L700.9 237.8L701.4 237.9L701.9 237.9L702.4 238.0L702.9 238.0L703.4 238.1L704.0 238.1L704.5 238.2L705.0 238.2L705.5 238.3L706.0 238.4L706.6 238.4L707.1 238.5L707.6 238.5L708.1 238.6L708.6 238.6L709.2 238.7L709.7 238.7L710.2 238.7L710.7 238.8L711.2 238.8L711.8 238.9L712.3 238.9L712.8 239.0L713.3 239.0L713.8 239.1L714.4 239.1L714.9 239.2L715.4 239.2L715.9 239.2L716.4 239.3L717.0 239.3L717.5 239.4L718.0 239.4L718.5 239.4L719.0 239.5L719.6 239.5L720.1 239.6L720.6 239.6L721.1 239.6L721.6 239.7L722.2 239.7L722.7 239.8L723.2 239.8L723.7 239.8L724.2 239.9L724.7 239.9L725.3 239.9L725.8 240.0L726.3 240.0L726.8 240.0L727.3 240.1L727.9 240.1L728.4 240.1L728.9 240.1L729.4 240.2L729.9 240.2L730.5 240.2L731.0 240.3L731.5 240.3L732.0 240.3L732.5 240.4L733.1 240.4L733.6 240.4L734.1 240.4L734.6 240.5L735.1 240.5L735.7 240.5L736.2 240.5L736.7 240.6L737.2 240.6L737.7 240.6L738.3 240.7L738.8 240.7L739.3 240.7L739.8 240.7L740.3 240.8L740.9 240.8L741.4 240.8L741.9 240.8L742.4 240.8L742.9 240.9L743.5 240.9L744.0 240.9L744.5 240.9L745.0 241.0L745.5 241.0L746.1 241.0L746.6 241.0L747.1 241.1L747.6 241.1L748.1 241.1L748.6 241.1L749.2 241.1L749.7 241.1L750.2 241.2L750.7 241.2L751.2 241.2L751.8 241.2L752.3 241.2L752.8 241.3L753.3 241.3L753.8 241.3L754.4 241.3L754.9 241.3L755.4 241.3L755.9 241.3L756.4 241.4L757.0 241.4L757.5 241.4L758.0 241.4" stroke="#3ee6f2"/>
<path d="M446.8 243.0L447.3 243.0L447.8 243.0L448.4 243.0L448.9 243.0L449.4 243.0L449.9 243.0L450.4 243.0L451.0 243.0L451.5 243.0L452.0 243.0L452.5 243.0L453.0 243.0L453.6 243.0L454.1 243.0L454.6 243.0L455.1 243.0L455.6 243.0L456.2 243.0L456.7 243.0L457.2 243.0L457.7 243.0L458.2 243.0L458.7 243.0L459.3 243.0L459.8 243.0L460.3 243.0L460.8 243.0L461.3 243.0L461.9 243.0L462.4 243.0L462.9 243.0L463.4 243.0L463.9 243.0L464.5 243.0L465.0 243.0L465.5 243.0L466.0 243.0L466.5 243.0L467.1 243.0L467.6 243.0L468.1 243.0L468.6 243.0L469.1 243.0L469.7 243.0L470.2 243.0L470.7 243.0L471.2 243.0L471.7 243.0L472.3 243.0L472.8 243.0L473.3 243.0L473.8 243.0L474.3 243.0L474.9 243.0L475.4 243.0L475.9 243.0L476.4 243.0L476.9 243.0L477.5 243.0L478.0 243.0L478.5 243.0L479.0 243.0L479.5 243.0L480.1 243.0L480.6 243.0L481.1 243.0L481.6 243.0L482.1 243.0L482.6 243.0L483.2 243.0L483.7 243.0L484.2 243.0L484.7 243.0L485.2 243.0L485.8 243.0L486.3 243.0L486.8 243.0L487.3 243.0L487.8 243.0L488.4 243.0L488.9 243.0L489.4 243.0L489.9 243.0L490.4 243.0L491.0 243.0L491.5 243.0L492.0 243.0L492.5 243.0L493.0 243.0L493.6 243.0L494.1 243.0L494.6 243.0L495.1 243.0L495.6 243.0L496.2 243.0L496.7 243.0L497.2 243.0L497.7 243.0L498.2 243.0L498.8 243.0L499.3 243.0L499.8 243.0L500.3 243.0L500.8 243.0L501.4 243.0L501.9 243.0L502.4 243.0L502.9 243.0L503.4 243.0L503.9 243.0L504.5 243.0L505.0 243.0L505.5 243.0L506.0 243.0L506.5 243.0L507.1 243.0L507.6 243.0L508.1 243.0L508.6 243.0L509.1 243.0L509.7 243.0L510.2 243.0L510.7 243.0L511.2 243.0L511.7 243.0L512.3 243.0L512.8 243.0L513.3 243.0L513.8 243.0L514.3 243.0L514.9 243.0L515.4 243.0L515.9 243.0L516.4 243.0L516.9 243.0L517.5 243.0L518.0 243.0L518.5 243.0L519.0 243.0L519.5 243.0L520.1 243.0L520.6 243.0L521.1 243.0L521.6 243.0L522.1 243.0L522.7 243.0L523.2 243.0L523.7 243.0L524.2 243.0L524.7 243.0L525.2 243.0L525.8 243.0L526.3 243.0L526.8 243.0L527.3 243.0L527.8 243.0L528.4 243.0L528.9 243.0L529.4 243.0L529.9 243.0L530.4 243.0L531.0 243.0L531.5 243.0L532.0 243.0L532.5 243.0L533.0 243.0L533.6 243.0L534.1 243.0L534.6 243.0L535.1 243.0L535.6 243.0L536.2 243.0L536.7 243.0L537.2 243.0L537.7 243.0L538.2 243.0L538.8 243.0L539.3 243.0L539.8 243.0L540.3 243.0L540.8 243.0L541.4 243.0L541.9 243.0L542.4 243.0L542.9 243.0L543.4 243.0L544.0 243.0L544.5 243.0L545.0 243.0L545.5 243.0L546.0 243.0L546.6 243.0L547.1 243.0L547.6 243.0L548.1 243.0L548.6 243.0L549.1 243.0L549.7 243.0L550.2 243.0L550.7 243.0L551.2 243.0L551.7 243.0L552.3 243.0L552.8 243.0L553.3 243.0L553.8 243.0L554.3 243.0L554.9 243.0L555.4 243.0L555.9 243.0L556.4 243.0L556.9 243.0L557.5 243.0L558.0 243.0L558.5 243.0L559.0 243.0L559.5 243.0L560.1 243.0L560.6 243.0L561.1 243.0L561.6 243.0L562.1 243.0L562.7 243.0L563.2 243.0L563.7 243.0L564.2 243.0L564.7 243.0L565.3 243.0L565.8 243.0L566.3 243.0L566.8 243.0L567.3 243.0L567.9 243.0L568.4 243.0L568.9 243.0L569.4 243.0L569.9 243.0L570.4 243.0L571.0 243.0L571.5 243.0L572.0 243.0L572.5 243.0L573.0 243.0L573.6 243.0L574.1 243.0L574.6 243.0L575.1 243.0L575.6 243.0L576.2 243.0L576.7 243.0L577.2 243.0L577.7 243.0L578.2 243.0L578.8 243.0L579.3 243.0L579.8 243.0L580.3 243.0L580.8 243.0L581.4 243.0L581.9 243.0L582.4 243.0L582.9 243.0L583.4 243.0L584.0 243.0L584.5 243.0L585.0 243.0L585.5 243.0L586.0 243.0L586.6 243.0L587.1 243.0L587.6 243.0L588.1 243.0L588.6 243.0L589.2 243.0L589.7 243.0L590.2 243.0L590.7 243.0L591.2 243.0L591.7 243.0L592.3 242.9L592.8 242.9L593.3 242.9L593.8 242.9L594.3 242.9L594.9 242.9L595.4 242.9L595.9 242.9L596.4 242.9L596.9 242.9L597.5 242.9L598.0 242.9L598.5 242.9L599.0 242.8L599.5 242.8L600.1 242.8L600.6 242.8L601.1 242.8L601.6 242.8L602.1 242.7L602.7 242.7L603.2 242.7L603.7 242.7L604.2 242.6L604.7 242.6L605.3 242.6L605.8 242.5L606.3 242.5L606.8 242.4L607.3 242.4L607.9 242.4L608.4 242.3L608.9 242.2L609.4 242.2L609.9 242.1L610.5 242.1L611.0 242.0L611.5 241.9L612.0 241.8L612.5 241.7L613.1 241.6L613.6 241.5L614.1 241.4L614.6 241.3L615.1 241.2L615.6 241.1L616.2 240.9L616.7 240.8L617.2 240.7L617.7 240.5L618.2 240.3L618.8 240.1L619.3 240.0L619.8 239.8L620.3 239.5L620.8 239.3L621.4 239.1L621.9 238.8L622.4 238.6L622.9 238.3L623.4 238.0L624.0 237.7L624.5 237.4L625.0 237.1L625.5 236.7L626.0 236.4L626.6 236.0L627.1 235.6L627.6 235.2L628.1 234.7L628.6 234.3L629.2 233.8L629.7 233.3L630.2 232.8L630.7 232.3L631.2 231.7L631.8 231.1L632.3 230.5L632.8 229.9L633.3 229.3L633.8 228.6L634.4 227.9L634.9 227.2L635.4 226.4L635.9 225.6L636.4 224.9L636.9 224.0L637.5 223.2L638.0 222.3L638.5 221.4L639.0 220.5L639.5 219.6L640.1 218.6L640.6 217.6L641.1 216.6L641.6 215.5L642.1 214.4L642.7 213.3L643.2 212.2L643.7 211.1L644.2 209.9L644.7 208.7L645.3 207.5L645.8 206.2L646.3 205.0L646.8 203.7L647.3 202.4L647.9 201.1L648.4 199.8L648.9 198.4L649.4 197.0L649.9 195.7L650.5 194.3L651.0 192.9L651.5 191.4L652.0 190.0L652.5 188.6L653.1 187.2L653.6 185.7L654.1 184.3L654.6 182.8L655.1 181.4L655.7 179.9L656.2 178.5L656.7 177.1L657.2 175.6L657.7 174.2L658.2 172.8L658.8 171.4L659.3 170.0L659.8 168.7L660.3 167.3L660.8 166.0L661.4 164.7L661.9 163.4L662.4 162.2L662.9 161.0L663.4 159.8L664.0 158.6L664.5 157.5L665.0 156.4L665.5 155.3L666.0 154.3L666.6 153.4L667.1 152.4L667.6 151.6L668.1 150.7L668.6 149.9L669.2 149.2L669.7 148.5L670.2 147.8L670.7 147.2L671.2 146.7L671.8 146.2L672.3 145.8L672.8 145.4L673.3 145.1L673.8 144.8L674.4 144.6L674.9 144.4L675.4 144.3L675.9 144.3L676.4 144.3L677.0 144.4L677.5 144.5L678.0 144.7L678.5 145.0L679.0 145.3L679.6 145.6L680.1 146.1L680.6 146.5L681.1 147.0L681.6 147.6L682.1 148.3L682.7 148.9L683.2 149.7L683.7 150.4L684.2 151.3L684.7 152.1L685.3 153.1L685.8 154.0L686.3 155.0L686.8 156.0L687.3 157.1L687.9 158.2L688.4 159.4L688.9 160.6L689.4 161.8L689.9 163.0L690.5 164.3L691.0 165.6L691.5 166.9L692.0 168.2L692.5 169.6L693.1 171.0L693.6 172.3L694.1 173.7L694.6 175.2L695.1 176.6L695.7 178.0L696.2 179.5L696.7 180.9L697.2 182.3L697.7 183.8L698.3 185.2L698.8 186.7L699.3 188.1L699.8 189.5L700.3 191.0L700.9 192.4L701.4 193.8L701.9 195.2L702.4 196.6L702.9 198.0L703.4 199.3L704.0 200.7L704.5 202.0L705.0 203.3L705.5 204.6L706.0 205.8L706.6 207.1L707.1 208.3L707.6 209.5L708.1 210.7L708.6 211.8L709.2 213.0L709.7 214.1L710.2 215.2L710.7 216.2L711.2 217.2L711.8 218.3L712.3 219.2L712.8 220.2L713.3 221.1L713.8 222.0L714.4 222.9L714.9 223.8L715.4 224.6L715.9 225.4L716.4 226.2L717.0 226.9L717.5 227.6L718.0 228.4L718.5 229.0L719.0 229.7L719.6 230.3L720.1 230.9L720.6 231.5L721.1 232.1L721.6 232.6L722.2 233.1L722.7 233.6L723.2 234.1L723.7 234.6L724.2 235.0L724.7 235.5L725.3 235.9L725.8 236.2L726.3 236.6L726.8 237.0L727.3 237.3L727.9 237.6L728.4 237.9L728.9 238.2L729.4 238.5L729.9 238.8L730.5 239.0L731.0 239.2L731.5 239.5L732.0 239.7L732.5 239.9L733.1 240.1L733.6 240.3L734.1 240.4L734.6 240.6L735.1 240.8L735.7 240.9L736.2 241.0L736.7 241.2L737.2 241.3L737.7 241.4L738.3 241.5L738.8 241.6L739.3 241.7L739.8 241.8L740.3 241.9L740.9 242.0L741.4 242.0L741.9 242.1L742.4 242.2L742.9 242.2L743.5 242.3L744.0 242.3L744.5 242.4L745.0 242.4L745.5 242.5L746.1 242.5L746.6 242.5L747.1 242.6L747.6 242.6L748.1 242.6L748.6 242.7L749.2 242.7L749.7 242.7L750.2 242.7L750.7 242.8L751.2 242.8L751.8 242.8L752.3 242.8L752.8 242.8L753.3 242.8L753.8 242.9L754.4 242.9L754.9 242.9L755.4 242.9L755.9 242.9L756.4 242.9L757.0 242.9L757.5 242.9L758.0 242.9" stroke="#fb3d97"/>
<path d="M607.3 243.0L607.9 243.0L608.4 243.0L608.9 243.0L609.4 243.0L609.9 243.0L610.5 243.0L611.0 243.0L611.5 243.0L612.0 243.0L612.5 243.0L613.1 243.0L613.6 243.0L614.1 243.0L614.6 243.0L615.1 243.0L615.6 243.0L616.2 243.0L616.7 243.0L617.2 243.0L617.7 243.0L618.2 243.0L618.8 243.0L619.3 243.0L619.8 243.0L620.3 243.0L620.8 243.0L621.4 243.0L621.9 243.0L622.4 243.0L622.9 243.0L623.4 243.0L624.0 243.0L624.5 243.0L625.0 243.0L625.5 243.0L626.0 243.0L626.6 243.0L627.1 243.0L627.6 243.0L628.1 243.0L628.6 243.0L629.2 243.0L629.7 243.0L630.2 243.0L630.7 243.0L631.2 243.0L631.8 243.0L632.3 243.0L632.8 243.0L633.3 243.0L633.8 243.0L634.4 243.0L634.9 243.0L635.4 243.0L635.9 243.0L636.4 243.0L636.9 243.0L637.5 243.0L638.0 243.0L638.5 243.0L639.0 243.0L639.5 243.0L640.1 243.0L640.6 243.0L641.1 243.0L641.6 243.0L642.1 243.0L642.7 243.0L643.2 243.0L643.7 243.0L644.2 243.0L644.7 243.0L645.3 243.0L645.8 243.0L646.3 243.0L646.8 243.0L647.3 243.0L647.9 243.0L648.4 243.0L648.9 243.0L649.4 243.0L649.9 243.0L650.5 243.0L651.0 243.0L651.5 243.0L652.0 243.0L652.5 243.0L653.1 243.0L653.6 243.0L654.1 243.0L654.6 243.0L655.1 243.0L655.7 243.0L656.2 242.9L656.7 242.9L657.2 242.9L657.7 242.9L658.2 242.9L658.8 242.9L659.3 242.9L659.8 242.8L660.3 242.8L660.8 242.8L661.4 242.7L661.9 242.7L662.4 242.6L662.9 242.6L663.4 242.5L664.0 242.4L664.5 242.3L665.0 242.2L665.5 242.1L666.0 242.0L666.6 241.8L667.1 241.6L667.6 241.4L668.1 241.2L668.6 241.0L669.2 240.7L669.7 240.4L670.2 240.0L670.7 239.7L671.2 239.2L671.8 238.8L672.3 238.2L672.8 237.6L673.3 237.0L673.8 236.3L674.4 235.5L674.9 234.7L675.4 233.8L675.9 232.8L676.4 231.7L677.0 230.5L677.5 229.2L678.0 227.8L678.5 226.3L679.0 224.7L679.6 223.0L680.1 221.1L680.6 219.1L681.1 217.0L681.6 214.8L682.1 212.4L682.7 209.9L683.2 207.3L683.7 204.5L684.2 201.5L684.7 198.5L685.3 195.3L685.8 191.9L686.3 188.4L686.8 184.8L687.3 181.1L687.9 177.2L688.4 173.3L688.9 169.2L689.4 165.1L689.9 160.9L690.5 156.6L691.0 152.3L691.5 147.9L692.0 143.5L692.5 139.1L693.1 134.7L693.6 130.3L694.1 126.0L694.6 121.7L695.1 117.5L695.7 113.4L696.2 109.4L696.7 105.6L697.2 101.9L697.7 98.4L698.3 95.0L698.8 91.9L699.3 89.0L699.8 86.3L700.3 83.9L700.9 81.8L701.4 79.9L701.9 78.4L702.4 77.1L702.9 76.1L703.4 75.4L704.0 75.1L704.5 75.0L705.0 75.3L705.5 75.9L706.0 76.8L706.6 78.0L707.1 79.5L707.6 81.3L708.1 83.3L708.6 85.7L709.2 88.2L709.7 91.1L710.2 94.1L710.7 97.4L711.2 100.9L711.8 104.5L712.3 108.3L712.8 112.3L713.3 116.3L713.8 120.5L714.4 124.8L714.9 129.1L715.4 133.5L715.9 137.9L716.4 142.3L717.0 146.7L717.5 151.1L718.0 155.4L718.5 159.7L719.0 164.0L719.6 168.1L720.1 172.2L720.6 176.2L721.1 180.0L721.6 183.8L722.2 187.4L722.7 191.0L723.2 194.3L723.7 197.6L724.2 200.7L724.7 203.7L725.3 206.5L725.8 209.2L726.3 211.7L726.8 214.2L727.3 216.4L727.9 218.6L728.4 220.6L728.9 222.5L729.4 224.2L729.9 225.9L730.5 227.4L731.0 228.8L731.5 230.1L732.0 231.4L732.5 232.5L733.1 233.5L733.6 234.4L734.1 235.3L734.6 236.1L735.1 236.8L735.7 237.5L736.2 238.1L736.7 238.6L737.2 239.1L737.7 239.5L738.3 239.9L738.8 240.3L739.3 240.6L739.8 240.9L740.3 241.2L740.9 241.4L741.4 241.6L741.9 241.8L742.4 241.9L742.9 242.1L743.5 242.2L744.0 242.3L744.5 242.4L745.0 242.5L745.5 242.5L746.1 242.6L746.6 242.7L747.1 242.7L747.6 242.8L748.1 242.8L748.6 242.8L749.2 242.8L749.7 242.9L750.2 242.9L750.7 242.9L751.2 242.9L751.8 242.9L752.3 242.9L752.8 243.0L753.3 243.0L753.8 243.0L754.4 243.0L754.9 243.0L755.4 243.0L755.9 243.0L756.4 243.0L757.0 243.0L757.5 243.0L758.0 243.0" stroke="#4848f4"/>
<path d="M446.8 237.6L447.3 237.5L447.8 237.5L448.4 237.4L448.9 237.3L449.4 237.2L449.9 237.2L450.4 237.1L451.0 237.0L451.5 236.9L452.0 236.9L452.5 236.8L453.0 236.7L453.6 236.6L454.1 236.6L454.6 236.5L455.1 236.4L455.6 236.4L456.2 236.3L456.7 236.2L457.2 236.1L457.7 236.1L458.2 236.0L458.7 235.9L459.3 235.8L459.8 235.8L460.3 235.7L460.8 235.6L461.3 235.5L461.9 235.5L462.4 235.4L462.9 235.3L463.4 235.3L463.9 235.2L464.5 235.1L465.0 235.0L465.5 235.0L466.0 234.9L466.5 234.8L467.1 234.7L467.6 234.7L468.1 234.6L468.6 234.5L469.1 234.5L469.7 234.4L470.2 234.3L470.7 234.2L471.2 234.2L471.7 234.1L472.3 234.0L472.8 234.0L473.3 233.9L473.8 233.8L474.3 233.7L474.9 233.7L475.4 233.6L475.9 233.5L476.4 233.4L476.9 233.4L477.5 233.3L478.0 233.2L478.5 233.1L479.0 233.1L479.5 233.0L480.1 232.9L480.6 232.8L481.1 232.8L481.6 232.7L482.1 232.6L482.6 232.5L483.2 232.5L483.7 232.4L484.2 232.3L484.7 232.2L485.2 232.1L485.8 232.0L486.3 232.0L486.8 231.9L487.3 231.8L487.8 231.7L488.4 231.6L488.9 231.5L489.4 231.4L489.9 231.3L490.4 231.2L491.0 231.2L491.5 231.1L492.0 231.0L492.5 230.9L493.0 230.8L493.6 230.7L494.1 230.6L494.6 230.5L495.1 230.4L495.6 230.3L496.2 230.2L496.7 230.1L497.2 230.0L497.7 229.9L498.2 229.9L498.8 229.8L499.3 229.7L499.8 229.6L500.3 229.5L500.8 229.4L501.4 229.3L501.9 229.2L502.4 229.2L502.9 229.1L503.4 229.0L503.9 228.9L504.5 228.8L505.0 228.7L505.5 228.7L506.0 228.6L506.5 228.5L507.1 228.4L507.6 228.3L508.1 228.3L508.6 228.2L509.1 228.1L509.7 228.0L510.2 227.9L510.7 227.9L511.2 227.8L511.7 227.7L512.3 227.6L512.8 227.5L513.3 227.5L513.8 227.4L514.3 227.3L514.9 227.2L515.4 227.2L515.9 227.1L516.4 227.0L516.9 226.9L517.5 226.9L518.0 226.8L518.5 226.7L519.0 226.6L519.5 226.6L520.1 226.5L520.6 226.4L521.1 226.3L521.6 226.3L522.1 226.2L522.7 226.1L523.2 226.1L523.7 226.0L524.2 225.9L524.7 225.8L525.2 225.8L525.8 225.7L526.3 225.6L526.8 225.6L527.3 225.5L527.8 225.5L528.4 225.4L528.9 225.3L529.4 225.3L529.9 225.2L530.4 225.1L531.0 225.1L531.5 225.0L532.0 225.0L532.5 224.9L533.0 224.9L533.6 224.8L534.1 224.7L534.6 224.7L535.1 224.6L535.6 224.6L536.2 224.5L536.7 224.4L537.2 224.4L537.7 224.3L538.2 224.3L538.8 224.2L539.3 224.2L539.8 224.1L540.3 224.1L540.8 224.0L541.4 223.9L541.9 223.9L542.4 223.8L542.9 223.8L543.4 223.7L544.0 223.7L544.5 223.6L545.0 223.6L545.5 223.5L546.0 223.5L546.6 223.4L547.1 223.4L547.6 223.3L548.1 223.3L548.6 223.2L549.1 223.2L549.7 223.1L550.2 223.1L550.7 223.0L551.2 223.0L551.7 223.0L552.3 222.9L552.8 222.9L553.3 222.8L553.8 222.8L554.3 222.7L554.9 222.7L555.4 222.7L555.9 222.6L556.4 222.6L556.9 222.6L557.5 222.5L558.0 222.5L558.5 222.5L559.0 222.5L559.5 222.4L560.1 222.4L560.6 222.4L561.1 222.3L561.6 222.3L562.1 222.3L562.7 222.3L563.2 222.2L563.7 222.2L564.2 222.2L564.7 222.2L565.3 222.1L565.8 222.1L566.3 222.1L566.8 222.1L567.3 222.0L567.9 222.0L568.4 222.0L568.9 222.0L569.4 221.9L569.9 221.9L570.4 221.9L571.0 221.9L571.5 221.9L572.0 221.8L572.5 221.8L573.0 221.8L573.6 221.8L574.1 221.8L574.6 221.7L575.1 221.7L575.6 221.7L576.2 221.7L576.7 221.7L577.2 221.7L577.7 221.7L578.2 221.6L578.8 221.6L579.3 221.6L579.8 221.6L580.3 221.6L580.8 221.6L581.4 221.6L581.9 221.6L582.4 221.6L582.9 221.6L583.4 221.6L584.0 221.6L584.5 221.6L585.0 221.6L585.5 221.6L586.0 221.6L586.6 221.7L587.1 221.7L587.6 221.7L588.1 221.7L588.6 221.7L589.2 221.7L589.7 221.8L590.2 221.8L590.7 221.8L591.2 221.8L591.7 221.8L592.3 221.9L592.8 221.9L593.3 221.9L593.8 221.9L594.3 221.9L594.9 222.0L595.4 222.0L595.9 222.0L596.4 222.0L596.9 222.0L597.5 222.0L598.0 222.1L598.5 222.1L599.0 222.1L599.5 222.1L600.1 222.1L600.6 222.1L601.1 222.1L601.6 222.1L602.1 222.1L602.7 222.1L603.2 222.1L603.7 222.1L604.2 222.1L604.7 222.1L605.3 222.1L605.8 222.1L606.3 222.2L606.8 222.2L607.3 222.2L607.9 222.2L608.4 222.2L608.9 222.2L609.4 222.2L609.9 222.2L610.5 222.2L611.0 222.2L611.5 222.2L612.0 222.2L612.5 222.2L613.1 222.2L613.6 222.2L614.1 222.2L614.6 222.2L615.1 222.2L615.6 222.2L616.2 222.2L616.7 222.2L617.2 222.2L617.7 222.2L618.2 222.2L618.8 222.2L619.3 222.1L619.8 222.1L620.3 222.0L620.8 222.0L621.4 221.9L621.9 221.8L622.4 221.7L622.9 221.6L623.4 221.5L624.0 221.4L624.5 221.3L625.0 221.2L625.5 221.0L626.0 220.9L626.6 220.7L627.1 220.4L627.6 220.0L628.1 219.7L628.6 219.3L629.2 218.8L629.7 218.3L630.2 217.9L630.7 217.4L631.2 216.9L631.8 216.4L632.3 215.9L632.8 215.3L633.3 214.7L633.8 214.1L634.4 213.5L634.9 212.8L635.4 212.1L635.9 211.4L636.4 210.6L636.9 209.8L637.5 209.0L638.0 208.2L638.5 207.3L639.0 206.4L639.5 205.4L640.1 204.3L640.6 203.2L641.1 202.0L641.6 200.8L642.1 199.6L642.7 198.4L643.2 197.1L643.7 195.9L644.2 194.7L644.7 193.5L645.3 192.3L645.8 191.1L646.3 189.9L646.8 188.6L647.3 187.4L647.9 186.2L648.4 184.9L648.9 183.7L649.4 182.5L649.9 181.3L650.5 180.1L651.0 179.0L651.5 177.8L652.0 176.7L652.5 175.5L653.1 174.4L653.6 173.3L654.1 172.1L654.6 171.1L655.1 170.0L655.7 168.9L656.2 167.9L656.7 166.9L657.2 165.9L657.7 165.0L658.2 164.1L658.8 163.2L659.3 162.3L659.8 161.4L660.3 160.5L660.8 159.5L661.4 158.6L661.9 157.6L662.4 156.6L662.9 155.5L663.4 154.5L664.0 153.4L664.5 152.3L665.0 151.2L665.5 150.1L666.0 149.0L666.6 147.8L667.1 146.6L667.6 145.5L668.1 144.3L668.6 143.1L669.2 141.8L669.7 140.6L670.2 139.3L670.7 138.1L671.2 136.8L671.8 135.4L672.3 134.0L672.8 132.6L673.3 131.2L673.8 129.7L674.4 128.1L674.9 126.5L675.4 124.9L675.9 123.2L676.4 121.4L677.0 119.7L677.5 117.9L678.0 116.1L678.5 114.2L679.0 112.4L679.6 110.5L680.1 108.6L680.6 106.6L681.1 104.6L681.6 102.6L682.1 100.5L682.7 98.4L683.2 96.3L683.7 94.1L684.2 91.9L684.7 89.6L685.3 87.3L685.8 84.8L686.3 82.4L686.8 79.8L687.3 77.2L687.9 74.7L688.4 72.1L688.9 69.5L689.4 67.0L689.9 64.5L690.5 62.1L691.0 59.7L691.5 57.2L692.0 54.7L692.5 52.3L693.1 49.9L693.6 47.5L694.1 45.2L694.6 42.9L695.1 40.8L695.7 38.7L696.2 36.7L696.7 34.8L697.2 33.0L697.7 31.3L698.3 29.6L698.8 28.0L699.3 26.5L699.8 24.7L700.3 23.1L700.9 22.1L701.4 21.8L701.9 22.0L702.4 22.5L702.9 23.2L703.4 24.0L704.0 24.9L704.5 26.3L705.0 28.2L705.5 30.6L706.0 33.2L706.6 35.9L707.1 38.7L707.6 41.5L708.1 44.6L708.6 47.8L709.2 51.3L709.7 54.9L710.2 58.7L710.7 62.7L711.2 66.7L711.8 70.9L712.3 75.2L712.8 79.5L713.3 84.1L713.8 88.9L714.4 94.1L714.9 99.4L715.4 104.9L715.9 110.5L716.4 116.1L717.0 121.7L717.5 127.3L718.0 132.6L718.5 137.8L719.0 143.0L719.6 148.4L720.1 153.7L720.6 159.1L721.1 164.4L721.6 169.6L722.2 174.6L722.7 179.4L723.2 183.8L723.7 187.9L724.2 191.6L724.7 194.9L725.3 197.9L725.8 200.8L726.3 203.4L726.8 206.1L727.3 208.7L727.9 211.5L728.4 214.4L728.9 217.4L729.4 220.3L729.9 223.1L730.5 225.6L731.0 227.8L731.5 229.5L732.0 231.0L732.5 232.3L733.1 233.7L733.6 234.9L734.1 236.0L734.6 237.0L735.1 237.8L735.7 238.5L736.2 239.0L736.7 239.4L737.2 239.6L737.7 239.8L738.3 240.1L738.8 240.2L739.3 240.4L739.8 240.5L740.3 240.6L740.9 240.7L741.4 240.7L741.9 240.7L742.4 240.8L742.9 240.8L743.5 240.8L744.0 240.8L744.5 240.9L745.0 240.9L745.5 240.9L746.1 240.9L746.6 240.9L747.1 240.9L747.6 240.9L748.1 240.9L748.6 240.9L749.2 240.9L749.7 240.9L750.2 240.9L750.7 240.9L751.2 240.9L751.8 240.9L752.3 240.9L752.8 240.9L753.3 240.9L753.8 240.9L754.4 240.9L754.9 240.9L755.4 240.9L755.9 240.9L756.4 240.9L757.0 240.9L757.5 240.9L758.0 240.9" stroke="#3ee23e" stroke-width="1.15"/>
<path d="M446.3 238.6L452.0 233.8L457.6 229.7L463.3 228.9L468.9 231.0L474.6 234.8L480.3 237.3L485.9 238.5L491.6 237.9L497.2 231.8L502.9 225.8L508.6 227.9L514.2 234.9L519.9 238.0L525.5 231.8L531.2 217.6L536.9 203.6L542.5 199.5L548.2 208.3L553.8 222.1L559.5 233.4L565.2 237.3L570.8 234.3L576.5 227.0L582.1 220.5L587.8 217.6L593.5 220.5L599.1 223.5L604.8 221.3L610.4 218.2L616.1 218.2L621.8 220.2L627.4 220.0L633.1 214.7L638.7 204.8L644.4 193.1L650.1 179.9L655.7 167.8L661.4 157.6L667.0 145.6L672.7 131.5L678.4 113.0L684.0 90.6L689.7 63.4L695.3 38.0L701.0 25.0L706.7 39.1L712.3 79.7L718.0 137.5L723.6 192.4L729.3 227.1L735.0 238.0L740.6 238.0L746.3 238.0L751.9 238.0L757.6 238.0" stroke="#303030" stroke-width="1" stroke-dasharray="2.2 1.4"/>
</g>
<g fill="url(#sg)" clip-path="url(#cb)"><circle cx="446.3" cy="239.0" r="2.6"/><circle cx="452.0" cy="234.2" r="2.6"/><circle cx="457.6" cy="230.1" r="2.6"/><circle cx="463.3" cy="229.3" r="2.6"/><circle cx="468.9" cy="231.4" r="2.6"/><circle cx="474.6" cy="235.2" r="2.6"/><circle cx="480.3" cy="237.7" r="2.6"/><circle cx="485.9" cy="238.9" r="2.6"/><circle cx="491.6" cy="238.3" r="2.6"/><circle cx="497.2" cy="232.2" r="2.6"/><circle cx="502.9" cy="226.2" r="2.6"/><circle cx="508.6" cy="228.3" r="2.6"/><circle cx="514.2" cy="235.3" r="2.6"/><circle cx="519.9" cy="238.4" r="2.6"/><circle cx="525.5" cy="232.2" r="2.6"/><circle cx="531.2" cy="218.0" r="2.6"/><circle cx="536.9" cy="204.0" r="2.6"/><circle cx="542.5" cy="199.9" r="2.6"/><circle cx="548.2" cy="208.7" r="2.6"/><circle cx="553.8" cy="222.5" r="2.6"/><circle cx="559.5" cy="233.8" r="2.6"/><circle cx="565.2" cy="237.7" r="2.6"/><circle cx="570.8" cy="234.7" r="2.6"/><circle cx="576.5" cy="227.4" r="2.6"/><circle cx="582.1" cy="220.9" r="2.6"/><circle cx="587.8" cy="218.0" r="2.6"/><circle cx="593.5" cy="220.9" r="2.6"/><circle cx="599.1" cy="223.9" r="2.6"/><circle cx="604.8" cy="221.7" r="2.6"/><circle cx="610.4" cy="218.6" r="2.6"/><circle cx="616.1" cy="218.6" r="2.6"/><circle cx="621.8" cy="220.6" r="2.6"/><circle cx="627.4" cy="220.4" r="2.6"/><circle cx="633.1" cy="215.1" r="2.6"/><circle cx="638.7" cy="205.2" r="2.6"/><circle cx="644.4" cy="193.5" r="2.6"/><circle cx="650.1" cy="180.3" r="2.6"/><circle cx="655.7" cy="168.2" r="2.6"/><circle cx="661.4" cy="158.0" r="2.6"/><circle cx="667.0" cy="146.0" r="2.6"/><circle cx="672.7" cy="131.9" r="2.6"/><circle cx="678.4" cy="113.4" r="2.6"/><circle cx="684.0" cy="91.0" r="2.6"/><circle cx="689.7" cy="63.8" r="2.6"/><circle cx="695.3" cy="38.4" r="2.6"/><circle cx="701.0" cy="25.4" r="2.6"/><circle cx="706.7" cy="39.5" r="2.6"/><circle cx="712.3" cy="80.1" r="2.6"/><circle cx="718.0" cy="137.9" r="2.6"/><circle cx="723.6" cy="192.8" r="2.6"/><circle cx="729.3" cy="227.5" r="2.6"/><circle cx="735.0" cy="238.4" r="2.6"/><circle cx="740.6" cy="238.4" r="2.6"/><circle cx="746.3" cy="238.4" r="2.6"/><circle cx="751.9" cy="238.4" r="2.6"/><circle cx="757.6" cy="238.4" r="2.6"/></g>
<g fill="none" stroke="#000">
<rect x="59.6" y="6.3" width="312.6" height="253.2" stroke-width="1.8"/>
<path d="M54.8 6.3H59.6M54.8 36.1H59.6M54.8 66.0H59.6M54.8 95.8H59.6M54.8 125.6H59.6M54.8 155.5H59.6M54.8 185.3H59.6M54.8 215.1H59.6M54.8 244.9H59.6M56.8 21.2H59.6M56.8 51.0H59.6M56.8 80.9H59.6M56.8 110.7H59.6M56.8 140.5H59.6M56.8 170.4H59.6M56.8 200.2H59.6M56.8 230.0H59.6M56.8 259.9H59.6M59.6 259.5V264.3M90.9 259.5V264.3M122.1 259.5V264.3M153.4 259.5V264.3M184.6 259.5V264.3M215.9 259.5V264.3M247.2 259.5V264.3M278.4 259.5V264.3M309.7 259.5V264.3M340.9 259.5V264.3M372.2 259.5V264.3M75.2 259.5V262.3M106.5 259.5V262.3M137.8 259.5V262.3M169.0 259.5V262.3M200.3 259.5V262.3M231.5 259.5V262.3M262.8 259.5V262.3M294.1 259.5V262.3M325.3 259.5V262.3M356.6 259.5V262.3" stroke-width="1.8"/>
<rect x="446.8" y="6.4" width="311.2" height="253.1" stroke-width="1.8"/>
<path d="M441.8 238.6H446.8M441.8 196.4H446.8M441.8 154.3H446.8M441.8 112.1H446.8M441.8 70.0H446.8M441.8 27.8H446.8M443.8 259.7H446.8M443.8 217.5H446.8M443.8 175.4H446.8M443.8 133.2H446.8M443.8 91.0H446.8M443.8 48.9H446.8M443.8 6.7H446.8" stroke-width="1.8"/>
<path d="M446.8 259.5V264.3M503.4 259.5V264.3M560.0 259.5V264.3M616.6 259.5V264.3M673.2 259.5V264.3M729.8 259.5V264.3" stroke-width="2.8"/>
<path d="M475.1 259.5V262.3M531.7 259.5V262.3M588.3 259.5V262.3M644.9 259.5V262.3M701.5 259.5V262.3M758.1 259.5V262.3" stroke-width="1.5"/>
</g>
</svg>
</body></html>
